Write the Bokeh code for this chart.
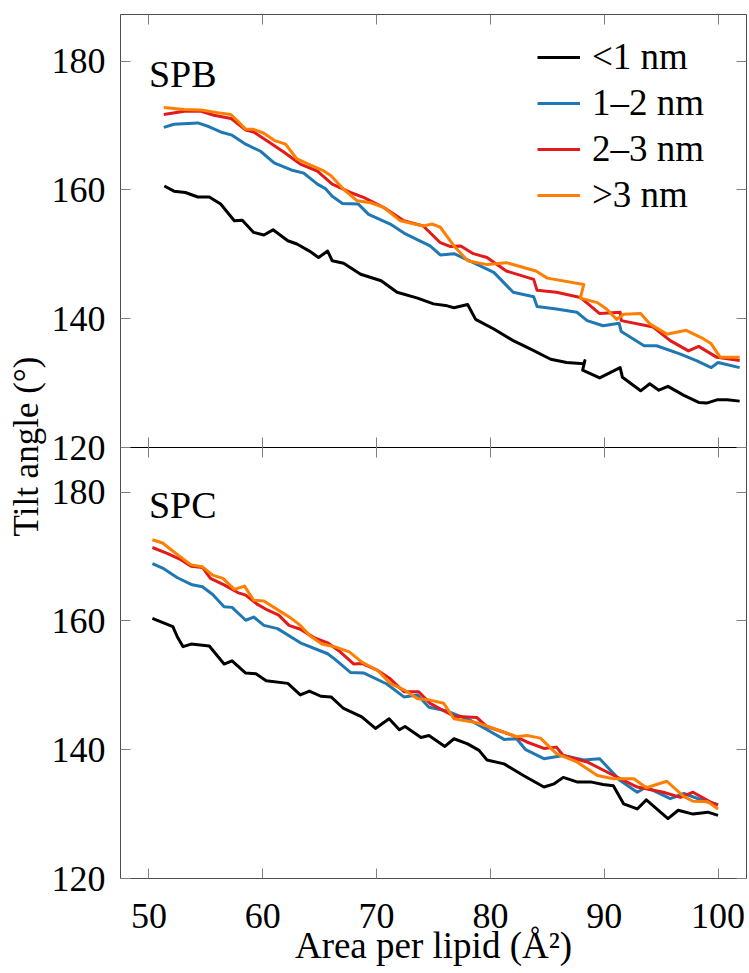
from bokeh.plotting import figure
from bokeh.models import (Range1d, LinearAxis, FixedTicker, Label, Legend, LegendItem,
                          CustomJSTickFormatter, CustomLabelingPolicy)
from bokeh.embed import file_html
from bokeh.resources import INLINE

FONT = "Liberation Serif"

x_ticks = [50, 60, 70, 80, 90, 100]
y_ticks = [120, 140, 160, 180]
series_names = ["<1 nm", "1\u20132 nm", "2\u20133 nm", ">3 nm"]
series_colors = ["#000000", "#1f78b4", "#e31a1c", "#ff7f00"]
panel_names = ["SPB", "SPC"]

# ---- SPB (top panel) ----
spb_lt1_x = [51.35, 52.2, 53.2, 54.3, 55.3, 56.3, 57.5, 58.2, 59.2, 60.1, 60.9, 62.2, 63.0, 64.1, 64.9,
             65.7, 66.1, 67.1, 68.6, 70.4, 71.8, 73.6, 75.0, 76.2, 76.8, 78.0, 78.7, 80.3, 82.0, 83.5,
             85.3, 86.7, 88.2, 88.3, 88.1, 89.6, 91.4, 91.6, 93.2, 94.0, 94.8, 95.6, 97.0, 98.3, 99.0,
             99.9, 100.8, 101.9]
spb_lt1_y = [160.6, 159.8, 159.6, 158.9, 158.9, 157.8, 155.2, 155.3, 153.4, 153.0, 153.8, 152.1, 151.6,
             150.5, 149.5, 150.5, 149.0, 148.6, 146.9, 145.9, 144.1, 143.2, 142.3, 142.0, 141.7, 142.2,
             139.9, 138.4, 136.6, 135.3, 133.7, 133.2, 133.0, 133.5, 132.0, 130.8, 132.4, 130.9, 128.8,
             129.9, 128.9, 129.5, 128.1, 127.0, 126.9, 127.4, 127.4, 127.2]

spb_12_x = [51.3, 52.2, 54.3, 55.3, 56.3, 57.3, 58.4, 59.8, 61.0, 62.5, 63.6, 64.8, 65.5, 66.1, 67.0,
            68.4, 69.3, 71.2, 72.4, 74.7, 75.6, 76.8, 78.5, 80.3, 82.0, 83.8, 84.1, 85.8, 87.6, 88.5,
            89.9, 91.3, 91.5, 93.5, 94.6, 96.7, 98.1, 99.4, 100.0, 101.9]
spb_12_y = [169.7, 170.2, 170.4, 169.8, 169.0, 168.5, 167.2, 166.0, 164.2, 163.1, 162.6, 160.9, 160.2,
            159.0, 157.9, 157.8, 156.2, 154.7, 153.3, 151.3, 149.9, 150.1, 148.7, 147.2, 144.1, 143.4,
            141.9, 141.5, 141.0, 139.7, 138.9, 139.3, 138.0, 135.8, 135.8, 134.5, 133.5, 132.4, 133.2,
            132.4]

spb_23_x = [51.3, 53.1, 54.6, 55.7, 57.2, 58.5, 59.2, 60.4, 61.9, 63.3, 64.8, 66.1, 67.7, 68.9, 70.6,
            72.4, 74.1, 75.6, 76.5, 77.4, 78.5, 79.7, 81.4, 83.8, 84.1, 85.8, 87.9, 89.6, 91.4, 91.5,
            94.3, 95.8, 97.4, 98.3, 99.9, 101.9]
spb_23_y = [171.7, 172.2, 172.2, 171.6, 171.1, 169.3, 169.0, 167.6, 165.8, 164.0, 162.9, 160.9, 159.6,
            158.8, 157.3, 155.2, 154.4, 151.8, 151.2, 151.3, 150.1, 149.5, 147.4, 146.1, 144.4, 144.1,
            143.3, 140.8, 141.0, 139.7, 138.7, 136.6, 135.0, 135.7, 134.0, 133.5]

spb_gt3_x = [51.3, 53.1, 54.6, 56.0, 57.2, 57.8, 58.5, 59.2, 60.1, 61.0, 62.0, 63.0, 64.5, 65.4, 66.0,
             67.1, 68.3, 69.5, 70.6, 72.1, 74.1, 74.9, 75.6, 76.8, 78.0, 79.7, 81.4, 84.0, 85.0, 88.2,
             87.9, 89.4, 90.2, 91.1, 91.7, 93.2, 94.0, 95.5, 97.2, 98.7, 99.4, 100.2, 101.9]
spb_gt3_y = [172.8, 172.5, 172.4, 172.0, 171.7, 170.7, 169.4, 169.4, 168.8, 167.7, 167.1, 164.8, 163.6,
             162.9, 162.2, 160.1, 158.3, 158.0, 157.3, 155.2, 154.4, 154.7, 154.2, 151.3, 149.0, 148.4,
             148.7, 147.4, 146.3, 145.3, 143.2, 142.5, 141.5, 139.9, 140.7, 140.8, 139.2, 137.6, 138.2,
             136.9, 136.1, 134.0, 134.0]

# ---- SPC (bottom panel) ----
spc_lt1_x = [50.3, 52.1, 52.5, 53.0, 53.7, 55.3, 56.6, 57.3, 58.5, 59.4, 60.3, 62.2, 63.3, 64.1, 65.1,
             66.0, 67.1, 68.7, 69.9, 71.1, 72.0, 72.5, 73.9, 74.6, 76.0, 76.8, 78.0, 79.0, 79.7, 81.2,
             82.9, 84.7, 85.6, 86.4, 87.6, 88.8, 89.9, 90.8, 91.7, 92.9, 93.7, 95.6, 96.5, 97.8, 99.1,
             100.0]
spc_lt1_y = [160.4, 159.1, 157.5, 156.0, 156.4, 156.1, 153.3, 153.8, 151.9, 151.8, 150.7, 150.3, 148.5,
             149.1, 148.3, 148.2, 146.4, 145.1, 143.3, 144.8, 143.1, 143.6, 141.9, 142.2, 140.5, 141.7,
             140.9, 139.9, 138.4, 137.8, 136.0, 134.2, 134.7, 135.7, 135.0, 135.0, 134.6, 134.4, 131.6,
             130.8, 132.2, 129.3, 130.6, 130.0, 130.3, 129.8]

spc_12_x = [50.3, 51.3, 52.5, 53.8, 54.7, 55.6, 56.6, 57.3, 58.5, 59.2, 60.1, 61.3, 63.3, 65.7, 66.3,
            67.7, 68.9, 70.9, 72.4, 73.6, 74.6, 76.2, 78.2, 79.4, 81.2, 82.3, 83.1, 84.7, 86.4, 88.2,
            89.6, 91.4, 92.9, 93.7, 95.8, 97.0, 99.0, 100.0]
spc_12_y = [168.9, 168.1, 166.7, 165.6, 165.3, 164.1, 162.2, 162.1, 160.1, 160.6, 159.3, 158.8, 156.6,
            154.9, 154.1, 152.0, 151.9, 150.2, 148.2, 148.5, 146.6, 146.0, 144.6, 143.4, 141.6, 141.7,
            140.0, 138.6, 139.1, 138.4, 138.6, 135.2, 133.4, 134.2, 132.4, 133.2, 131.9, 131.5]

spc_23_x = [50.3, 51.6, 52.8, 53.7, 54.7, 55.4, 56.6, 57.8, 58.5, 59.5, 60.4, 61.4, 62.3, 63.3, 64.5,
            65.7, 66.8, 68.0, 68.7, 70.1, 71.2, 72.4, 73.7, 74.7, 76.8, 78.8, 79.7, 82.0, 83.2, 84.7,
            85.8, 86.4, 88.5, 90.5, 92.9, 95.2, 96.7, 97.8, 99.3, 100.0]
spc_23_y = [171.4, 170.5, 169.5, 168.5, 168.3, 166.6, 165.6, 164.4, 164.0, 162.6, 161.7, 160.9, 159.3,
            158.7, 157.4, 156.6, 155.2, 153.3, 153.4, 152.3, 151.0, 149.0, 149.0, 147.2, 145.2, 145.0,
            143.6, 142.2, 141.2, 140.2, 140.4, 139.1, 138.1, 136.3, 134.2, 133.4, 132.6, 133.4, 131.9,
            131.4]

spc_gt3_x = [50.3, 51.2, 52.2, 52.8, 53.7, 54.7, 55.6, 56.5, 57.5, 58.4, 59.2, 60.1, 61.6, 62.5, 63.3,
             64.2, 65.2, 66.3, 67.6, 68.7, 70.1, 71.2, 72.4, 73.6, 74.7, 75.9, 76.8, 78.8, 80.6, 82.3,
             83.2, 84.4, 85.8, 87.6, 89.4, 90.8, 92.6, 93.7, 95.5, 97.0, 97.8, 99.1, 100.0]
spc_gt3_y = [172.6, 172.1, 170.7, 169.9, 168.7, 168.4, 167.1, 166.6, 164.9, 165.4, 163.2, 163.1, 161.4,
             160.4, 159.3, 157.6, 156.4, 156.0, 155.2, 153.6, 152.3, 150.3, 149.3, 147.9, 147.7, 147.2,
             144.8, 144.2, 143.1, 142.0, 142.2, 141.8, 139.4, 138.1, 136.0, 135.5, 135.5, 134.1, 135.1,
             132.7, 132.0, 131.9, 130.8]

top_series = [(spb_lt1_x, spb_lt1_y), (spb_12_x, spb_12_y), (spb_23_x, spb_23_y), (spb_gt3_x, spb_gt3_y)]
bot_series = [(spc_lt1_x, spc_lt1_y), (spc_12_x, spc_12_y), (spc_23_x, spc_23_y), (spc_gt3_x, spc_gt3_y)]

# ---- one frame holding both panels ----
PX_PER_UNIT = 6.44
FRAME_H = 864
LOWER_H = 431
full_span = FRAME_H / PX_PER_UNIT
lower_span = LOWER_H / PX_PER_UNIT   # offset between the two panels, in data units

p = figure(width=748, height=970,
           x_range=Range1d(47.5, 102.5),
           y_range=Range1d(120, 120 + full_span),
           output_backend="svg", toolbar_location=None,
           x_axis_location=None, y_axis_location=None,
           min_border_left=120, min_border_right=2, min_border_top=14, min_border_bottom=92)
p.extra_y_ranges = {"top": Range1d(120 - lower_span, 120 - lower_span + full_span)}
p.grid.visible = False
p.outline_line_color = "#4d4d4d"
p.outline_line_width = 1
p.background_fill_color = "white"
p.border_fill_color = "white"

TICK_COLOR = "#808080"
no_labels = CustomLabelingPolicy(
    code="try { for (const i of Array.from(indices)) { indices.unset(i) } } catch (e) {} return indices")


def style(ax, labels=False):
    ax.major_tick_in = 10
    ax.major_tick_out = 0
    ax.major_tick_line_color = TICK_COLOR
    ax.major_tick_line_width = 1
    ax.minor_tick_line_color = None
    ax.axis_line_color = None
    if labels:
        ax.major_label_text_font = FONT
        ax.major_label_text_font_size = "36px"
        ax.major_label_text_color = "black"
    else:
        ax.major_label_text_font_size = "0px"
        ax.major_label_standoff = 0
        ax.major_label_policy = no_labels


# tick positions of both panels on the shared left/right axes
both_panel_ticks = y_ticks + [t + lower_span for t in y_ticks]
panel_formatter = CustomJSTickFormatter(
    args=dict(offset=lower_span, split=180 + 2),
    code="const v = tick > split ? tick - offset : tick; return Math.round(v).toString();")

left = LinearAxis(ticker=FixedTicker(ticks=both_panel_ticks), formatter=panel_formatter)
style(left, labels=True)
left.major_label_standoff = 15
left.axis_label = "Tilt angle (\u00b0)"
left.axis_label_text_font = FONT
left.axis_label_text_font_size = "35px"
left.axis_label_text_font_style = "normal"
left.axis_label_text_color = "black"
left.axis_label_standoff = 3
p.add_layout(left, "left")

right = LinearAxis(ticker=FixedTicker(ticks=both_panel_ticks))
style(right)
p.add_layout(right, "right")

bottom = LinearAxis(ticker=FixedTicker(ticks=x_ticks))
style(bottom, labels=True)
bottom.major_label_standoff = 25
bottom.axis_label = "Area per lipid (\u00c5\u00b2)"
bottom.axis_label_text_font = FONT
bottom.axis_label_text_font_size = "37px"
bottom.axis_label_text_font_style = "normal"
bottom.axis_label_text_color = "black"
bottom.axis_label_standoff = -6
p.add_layout(bottom, "below")

top_ax = LinearAxis(ticker=FixedTicker(ticks=x_ticks))
style(top_ax)
p.add_layout(top_ax, "above")

# divider between the panels, with ticks into both panels
divider = LinearAxis(ticker=FixedTicker(ticks=x_ticks), y_range_name="top", fixed_location=120)
style(divider)
divider.major_tick_out = 10
divider.axis_line_color = "black"
divider.axis_line_width = 1.2
p.add_layout(divider, "below")

# lines
top_renderers = []
for (xs, ys), c in zip(top_series, series_colors):
    r = p.line(xs, ys, y_range_name="top", line_color=c, line_width=3, line_join="round")
    top_renderers.append(r)
for (xs, ys), c in zip(bot_series, series_colors):
    p.line(xs, ys, line_color=c, line_width=3, line_join="round")

# panel labels
p.add_layout(Label(x=50, y=178, y_range_name="top", text=panel_names[0], text_font=FONT,
                   text_font_size="38px", text_color="black", text_baseline="alphabetic"))
p.add_layout(Label(x=50, y=178, text=panel_names[1], text_font=FONT,
                   text_font_size="38px", text_color="black", text_baseline="alphabetic"))

legend = Legend(items=[LegendItem(label=n, renderers=[r]) for n, r in zip(series_names, top_renderers)],
                location=(417, 662))
legend.border_line_color = None
legend.background_fill_alpha = 0
legend.padding = 0
legend.margin = 0
legend.spacing = 3
legend.glyph_width = 43
legend.glyph_height = 42
legend.label_height = 42
legend.label_standoff = 12
legend.label_text_font = FONT
legend.label_text_font_size = "37px"
legend.label_text_color = "black"
p.add_layout(legend, "center")

open("out.html", "w").write(file_html(p, INLINE))
